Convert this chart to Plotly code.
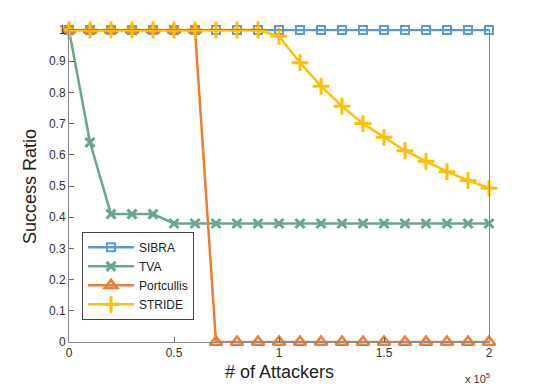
import plotly.graph_objects as go

x_vals = [i * 10000 for i in range(21)]
sibra = [1.0] * 21
tva = [1.0, 0.64, 0.41, 0.41, 0.41, 0.38, 0.38, 0.38, 0.38, 0.38, 0.38,
       0.38, 0.38, 0.38, 0.38, 0.38, 0.38, 0.38, 0.38, 0.38, 0.38]
portcullis = [1, 1, 1, 1, 1, 1, 1, 0, 0, 0, 0, 0, 0, 0, 0, 0, 0, 0, 0, 0, 0]
stride = [1, 1, 1, 1, 1, 1, 1, 1, 1, 1, 0.98, 0.895, 0.82, 0.756, 0.70,
          0.656, 0.613, 0.579, 0.546, 0.518, 0.493]

x_ticks = [0, 50000, 100000, 150000, 200000]
x_tick_text = ["0", "0.5", "1", "1.5", "2"]
y_ticks = [0, 0.1, 0.2, 0.3, 0.4, 0.5, 0.6, 0.7, 0.8, 0.9, 1]
y_tick_text = ["0", "0.1", "0.2", "0.3", "0.4", "0.5", "0.6", "0.7", "0.8", "0.9", "1"]

series = [
    ("SIBRA", sibra, "#5B9BD5", dict(symbol="square-open", size=8, line=dict(width=2))),
    ("TVA", tva, "#6AA68D", dict(symbol="x-thin", size=9, line=dict(width=3))),
    ("Portcullis", portcullis, "#ED7D31", dict(symbol="triangle-up-open", size=11, line=dict(width=2.5))),
    ("STRIDE", stride, "#FFC000", dict(symbol="cross-thin", size=12, line=dict(width=3))),
]

fig = go.Figure()
for name, ys, color, mk in series:
    mk = dict(mk)
    mk["color"] = color
    mk["line"] = dict(mk["line"], color=color)
    fig.add_trace(go.Scatter(
        x=x_vals, y=ys, name=name, mode="lines+markers",
        line=dict(color=color, width=2.5), marker=mk, cliponaxis=False,
    ))

axis_common = dict(
    showgrid=False, zeroline=False, showline=True, linecolor="#888888", linewidth=1,
    mirror=True, ticks="inside", ticklen=5, tickcolor="#666666", automargin=False,
    tickfont=dict(family="Liberation Sans, Arial", size=12, color="#333333"),
)

fig.update_layout(
    width=540, height=390,
    margin=dict(l=69, r=51, t=30, b=48),
    paper_bgcolor="white", plot_bgcolor="white",
    font=dict(family="Liberation Sans, Arial", color="#222222"),
    xaxis=dict(axis_common, range=[0, 200000], tickvals=x_ticks, ticktext=x_tick_text),
    yaxis=dict(axis_common, range=[0, 1], tickvals=y_ticks, ticktext=y_tick_text),
    legend=dict(x=0.031, y=0.353, xanchor="left", yanchor="top",
                bgcolor="white", bordercolor="#444444", borderwidth=1,
                font=dict(size=12), tracegroupgap=0, itemwidth=46),
    showlegend=True,
    annotations=[
        dict(text="# of Attackers", x=0.5, y=-0.096, xref="paper", yref="paper",
             xanchor="center", yanchor="middle", showarrow=False,
             font=dict(size=18, color="#222222")),
        dict(text="Success Ratio", x=-0.093, y=0.5, xref="paper", yref="paper",
             xanchor="center", yanchor="middle", textangle=-90, showarrow=False,
             font=dict(size=18, color="#222222")),
        dict(text="x 10<sup>5</sup>", x=1.007, y=-0.085, xref="paper", yref="paper",
             xanchor="right", yanchor="top", showarrow=False,
             font=dict(size=11, color="#333333")),
    ],
)

fig.write_html("out.html", config={"displayModeBar": False},
               post_script="document.body.style.margin='0';document.body.style.overflow='hidden';")
